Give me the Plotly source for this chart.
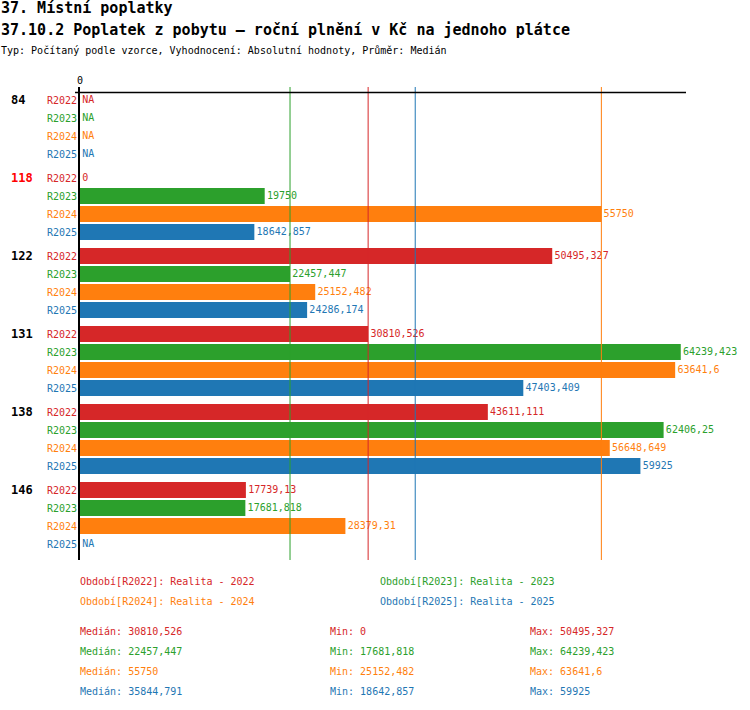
import numpy as np
import plotly.graph_objects as go

# data
groups = ["84", "118", "122", "131", "138", "146"]
group_colors = ["#000000", "#ff0000", "#000000", "#000000", "#000000", "#000000"]
periods = ["R2022", "R2023", "R2024", "R2025"]
period_names = ["Realita - 2022", "Realita - 2023", "Realita - 2024", "Realita - 2025"]
colors = ["#d62728", "#2ca02c", "#ff7f0e", "#1f77b4"]

r2022 = [None, 0, 50495.327, 30810.526, 43611.111, 17739.13]
r2023 = [None, 19750, 22457.447, 64239.423, 62406.25, 17681.818]
r2024 = [None, 55750, 25152.482, 63641.6, 56648.649, 28379.31]
r2025 = [None, 18642.857, 24286.174, 47403.409, 59925, None]
series = [r2022, r2023, r2024, r2025]

FONT = "DejaVu Sans Mono"
W, H = 750, 710
L, R, T, B = 80, 64, 87, 150
PW, PH = W - L - R, H - T - B
GROUP_STEP = 4 + 1 / 3  # 4 rows + gap


def fmt(v):
    s = f"{v:.3f}".rstrip("0").rstrip(".")
    return s.replace(".", ",")


def px(x, y):
    # pixel position -> paper coords
    return (x - L) / PW, (H - B - y) / PH


def label(x, y, text, size=10, color="black", anchor="left", xref="paper", yref="paper"):
    fig.add_annotation(xref=xref, yref=yref, x=x, y=y, text=text, showarrow=False,
                       xanchor=anchor, yanchor="middle", borderpad=0,
                       font=dict(family=FONT, size=size, color=color))


fig = go.Figure()

for si, vals in enumerate(series):
    ys = [gi * GROUP_STEP + si for gi in range(len(groups))]
    bx = [v if v is not None else 0 for v in vals]
    fig.add_trace(go.Bar(
        x=bx, y=ys, orientation="h", width=0.89,
        marker=dict(color=colors[si], line=dict(width=0)),
        hoverinfo="skip",
    ))
    # value labels, invisible marker gives the small gap after the bar
    fig.add_trace(go.Scatter(
        x=bx, y=ys, mode="markers+text",
        marker=dict(size=2, opacity=0),
        text=[fmt(v) if v is not None else "NA" for v in vals],
        textposition="middle right", cliponaxis=False,
        textfont=dict(family=FONT, size=10, color=colors[si]),
        hoverinfo="skip",
    ))
    # median line
    arr = np.array([v for v in vals if v is not None], dtype=float)
    fig.add_shape(type="line", xref="x", yref="paper",
                  x0=np.median(arr), x1=np.median(arr), y0=0, y1=1,
                  line=dict(color=colors[si], width=1))

# row labels and group labels
for gi, g in enumerate(groups):
    for si, p in enumerate(periods):
        label(-2 / PW, gi * GROUP_STEP + si, p, color=colors[si], anchor="right", yref="y")
    label(-70 / PW, gi * GROUP_STEP, "<b>" + g + "</b>", size=12,
          color=group_colors[gi], yref="y")

# top axis line
fig.add_shape(type="line", xref="paper", yref="y", x0=-5 / PW, x1=1,
              y0=-0.42, y1=-0.42, line=dict(color="black", width=1.5))

# titles
for txt, y, size in [("<b>37. Místní poplatky</b>", 8, 15),
                     ("<b>37.10.2 Poplatek z pobytu – roční plnění v Kč na jednoho plátce</b>", 30, 15),
                     ("Typ: Počítaný podle vzorce, Vyhodnocení: Absolutní hodnoty, Průměr: Medián", 50, 10)]:
    xp, yp = px(0, y)
    label(xp, yp, txt, size=size)

# legend
leg_pos = [(79, 581), (379, 581), (79, 601), (379, 601)]
for si, (lx, ly) in enumerate(leg_pos):
    xp, yp = px(lx, ly)
    label(xp, yp, f"Období[{periods[si]}]: {period_names[si]}", color=colors[si])

# stats
for si, vals in enumerate(series):
    arr = np.array([v for v in vals if v is not None], dtype=float)
    ly = 631 + si * 20
    for lx, lab, v in [(79, "Medián", np.median(arr)), (329, "Min", arr.min()),
                       (529, "Max", arr.max())]:
        xp, yp = px(lx, ly)
        label(xp, yp, f"{lab}: {fmt(v)}", color=colors[si])

last = (len(groups) - 1) * GROUP_STEP + 3
fig.update_layout(
    width=W, height=H,
    margin=dict(l=L, r=R, t=T, b=B),
    plot_bgcolor="white", paper_bgcolor="white",
    showlegend=False, barmode="overlay",
    font=dict(family=FONT, size=10, color="black"),
    xaxis=dict(range=[0, 64800], side="top", tickvals=[0], ticktext=["0"],
               showgrid=False, zeroline=False, showline=False, ticks="",
               tickfont=dict(family=FONT, size=10, color="black")),
    yaxis=dict(range=[last + 0.889, -0.722], showgrid=False, zeroline=False,
               showticklabels=False, ticks="", showline=True,
               linecolor="black", linewidth=2),
)

fig.write_html("out.html", config={"displayModeBar": False},
               post_script="document.body.style.margin='0';")
